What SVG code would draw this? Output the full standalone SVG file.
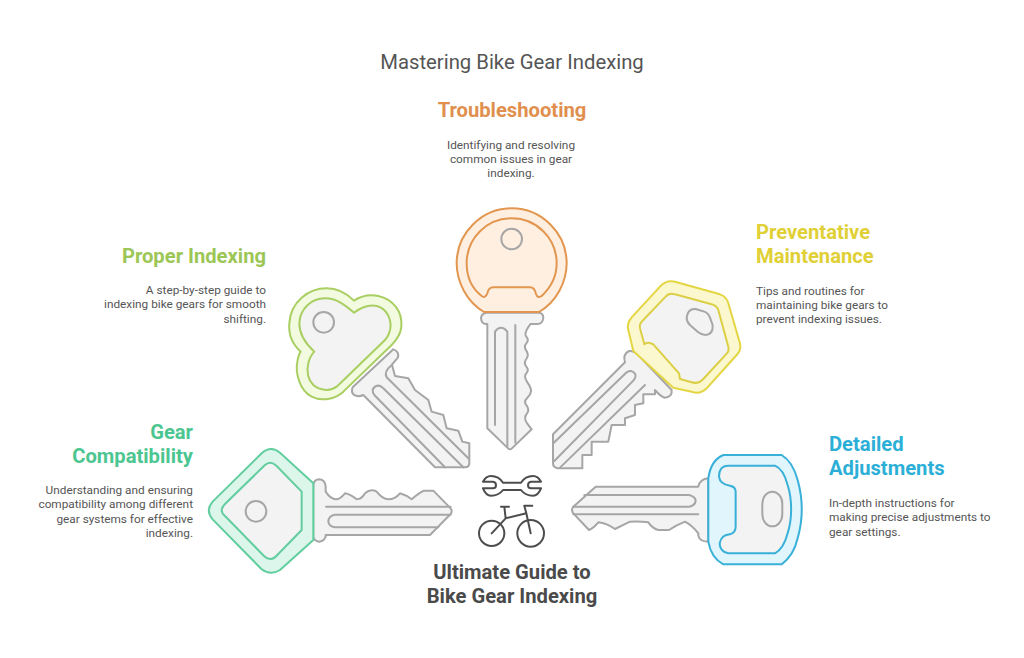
<svg xmlns="http://www.w3.org/2000/svg" width="1024" height="658" viewBox="0 0 1024 658">
<style>
text{font-family:Roboto,"Liberation Sans",sans-serif;fill:#555}
.title{font-size:20.3px;text-anchor:middle}
.h{font-size:20.2px;font-weight:700}
.d{font-size:11.8px}
.c{text-anchor:middle}
.e{text-anchor:end}
.m{font-weight:700;fill:#4a4a4a;font-size:20.2px;text-anchor:middle}
path,circle,ellipse,rect{vector-effect:non-scaling-stroke;stroke-width:2;stroke-linejoin:round;stroke-linecap:round}
.g{fill:#f3f3f3;stroke:#a6a6a6}
.n{fill:none;stroke:#a6a6a6}
.ic{fill:none;stroke:#4d4d4d}
.or{fill:#feefe1;stroke:#e2964f}.ori{fill:#feefe1;stroke:#e2964f}
.lm{fill:#f2fadf;stroke:#a9cf62}.lmi{fill:#f3f3f3;stroke:#a9cf62}
.ye{fill:#fbf8cf;stroke:#e4d643}.yei{fill:#f3f3f3;stroke:#dccf45}
.te{fill:#ddf6ec;stroke:#62cd9f}.tei{fill:#f3f3f3;stroke:#62cd9f}
.bl{fill:#e0f5fc;stroke:#38b0d8}.bli{fill:#f3f3f3;stroke:#38b0d8}
</style>
<rect width="1024" height="658" fill="#fff" style="stroke:none"/>
<text class="title" x="512" y="69">Mastering Bike Gear Indexing</text>

<g id="key-troubleshooting" transform="translate(440 200) scale(.3333)">
<path class="g" d="M140 338H298Q310 340 310 354Q308 372 292 372H272Q250 400 259 410Q268 420 259 430Q250 440 259 452Q268 465 259 477Q250 490 259 500Q268 510 259 520Q250 530 262 547Q275 565 273 575Q272 585 261 595Q250 605 260 617Q270 630 260 642Q250 655 262 671L275 688L215 746Q212 750 205 746L142 685V372H138Q124 372 123 354Q124 340 140 338Z"/>
<path class="n" d="M165 675V395Q183 372 202 395V740"/>
<path class="n" d="M226 375V728"/>
<path class="or" d="M132 336C80 305 50 245 50 190C50 100 125 25 215 25C305 25 380 100 380 190C380 245 350 305 297 336Z"/>
<path class="ori" d="M125 288C95 265 80 230 80 190C80 115 140 55 215 55C290 55 350 115 350 190C350 230 330 265 305 288Q293 296 288 282Q284 262 270 262H160Q146 262 142 280Q136 296 125 288Z"/>
<circle class="n" cx="215" cy="117" r="31"/>
</g>

<g id="key-proper-indexing" transform="translate(280 280) scale(.3333)">
<path class="g" d="M340 208Q358 214 354 232L336 254L345 288L385 295L405 330L445 360L455 395L490 405L500 445L535 452L547 485L568 490V550Q568 562 555 562H465L250 345Q235 352 222 345Q212 335 218 322Z"/>
<path class="n" d="M495 562L283 345Q272 330 285 320Q298 312 310 325L550 562"/>
<path class="n" d="M336 254Q310 275 320 292L565 535"/>
<path class="lm" d="M62 215C35 190 25 160 28 130C32 65 85 25 140 25C175 25 205 45 222 62C240 50 265 42 295 48C340 58 368 95 364 140C362 165 350 180 335 195L190 335C165 358 125 365 95 350C60 332 45 280 52 245Q55 225 62 215Z"/>
<path class="lmi" d="M103 215C75 190 58 165 58 130C60 85 95 55 135 55C170 55 195 75 222 98C240 85 262 72 290 78C318 85 335 115 331 145Q328 165 315 180L170 320C150 335 120 332 100 315C85 300 78 275 85 250Q90 228 103 215Z"/>
<circle class="n" cx="131" cy="127" r="31"/>
</g>

<g id="key-preventative" transform="translate(545 275) scale(.3333)">
<path class="g" d="M240 262Q232 238 252 228Q266 226 280 240L380 345Q382 366 360 368Q348 366 330 345V358H295V385L270 390V420L240 430V450H200L190 500H140V540H112V580H38Q24 578 24 565V478Z"/>
<path class="n" d="M25 505L245 292Q262 282 271 298Q274 310 262 320L28 558"/>
<path class="n" d="M45 578L300 330"/>
<path class="ye" d="M265 228L250 165Q244 145 262 125L345 35Q362 15 390 20L525 58Q545 65 550 85L585 205Q590 225 575 240L485 340Q465 360 440 350L385 338Z"/>
<path class="yei" d="M298 208L285 160Q282 148 292 138L362 65Q372 52 390 58L500 88Q515 92 520 105L550 215Q553 228 545 236L475 312Q460 328 440 322L405 312L402 295L325 208Q308 198 298 208Z"/>
<path class="n" d="M425 128Q428 100 452 102L478 110Q490 114 495 128L503 150Q505 178 482 180Q470 180 458 170L435 150Q425 140 425 128Z"/>
</g>

<g id="key-gear-compatibility" transform="translate(200 440) scale(.3333)">
<path class="g" d="M340 135Q342 118 358 118Q376 120 377 140V155Q392 178 408 178Q420 178 435 160Q450 162 470 178Q485 178 495 160Q512 145 530 155Q548 178 565 178Q585 178 600 160Q618 165 635 178Q655 160 672 152H700L752 205Q758 212 752 222L690 285H377V290Q372 305 356 305Q342 302 340 290Z"/>
<path class="n" d="M378 200H752"/>
<path class="n" d="M752 224H405Q385 228 385 245Q387 260 405 262H715"/>
<path class="te" d="M340 130V300L240 390Q212 408 185 388L38 238Q15 212 38 185L185 40Q212 15 240 38Z"/>
<path class="tei" d="M305 155V270L232 345Q212 368 192 348L75 228Q55 212 75 192L195 75Q212 60 230 78Z"/>
<circle class="n" cx="168" cy="214" r="31"/>
</g>

<g id="key-detailed" transform="translate(565 445) scale(.3333)">
<path class="g" d="M430 100Q405 102 400 125H92L25 185Q17 195 25 205L72 255Q85 250 100 232Q125 235 150 252Q175 240 195 230Q225 228 250 232Q262 250 280 255H312Q335 240 360 230Q380 240 400 265V272Q404 290 430 290Z"/>
<path class="n" d="M58 150H372Q392 155 392 168Q390 182 372 185H25"/>
<path class="n" d="M25 208H400"/>
<path class="bl" d="M430 100C435 65 450 40 475 30H650C675 45 690 75 698 105C715 165 715 220 698 280C690 315 675 340 650 358H475C450 345 435 320 430 290Z"/>
<path class="bli" d="M462 95C462 75 470 62 490 62H630C650 70 660 90 668 120C682 165 682 220 668 265C660 295 650 315 630 325H490C470 322 462 305 465 292Q470 270 495 268Q512 262 512 245V140Q512 125 495 122Q465 118 462 95Z"/>
<rect class="n" x="592" y="140" width="60" height="104" rx="30" ry="36"/>
</g>

<g id="center-icon">
<path class="ic" d="M503 482.7H521C524 478 529 476 533 476Q538 476 541 481.7H531Q528 482 528 485.2Q528 488 531 488.3H541Q538 495.7 533 495.7C529 495.7 524 494 521 490H503C500 494 495 495.7 491 495.7Q486 495.7 483 488.3H493Q496 488 496 485.2Q496 482 493 481.7H483Q486 476 491 476C495 476 500 478 503 482.7Z"/>
<g transform="translate(465 465) scale(.3333)">
<circle class="ic" cx="80" cy="205" r="38"/>
<circle class="ic" cx="197" cy="205" r="40"/>
<path class="ic" d="M80 205L122 160L184 145L197 205M108 125H132M122 160L118 125M184 145L178 122H202"/>
</g>
</g>

<g id="label-troubleshooting">
<text class="h c" x="512" y="117" style="fill:#e08f4e">Troubleshooting</text>
<text class="d c" x="511" y="149">Identifying and resolving</text>
<text class="d c" x="511" y="163">common issues in gear</text>
<text class="d c" x="511" y="177">indexing.</text>
</g>
<g id="label-proper">
<text class="h e" x="266" y="263" style="fill:#9cc655">Proper Indexing</text>
<text class="d e" x="266" y="294">A step-by-step guide to</text>
<text class="d e" x="266" y="308">indexing bike gears for smooth</text>
<text class="d e" x="266" y="323">shifting.</text>
</g>
<g id="label-preventative">
<text class="h" x="756" y="239" style="fill:#e0d035">Preventative</text>
<text class="h" x="756" y="263" style="fill:#e0d035">Maintenance</text>
<text class="d" x="756" y="295">Tips and routines for</text>
<text class="d" x="756" y="309">maintaining bike gears to</text>
<text class="d" x="756" y="323">prevent indexing issues.</text>
</g>
<g id="label-gear">
<text class="h e" x="193" y="439" style="fill:#4cc690">Gear</text>
<text class="h e" x="193" y="463" style="fill:#4cc690">Compatibility</text>
<text class="d e" x="193" y="494">Understanding and ensuring</text>
<text class="d e" x="193" y="508">compatibility among different</text>
<text class="d e" x="193" y="523">gear systems for effective</text>
<text class="d e" x="193" y="537">indexing.</text>
</g>
<g id="label-detailed">
<text class="h" x="829" y="451" style="fill:#2cafd6">Detailed</text>
<text class="h" x="829" y="475" style="fill:#2cafd6">Adjustments</text>
<text class="d" x="829" y="507">In-depth instructions for</text>
<text class="d" x="829" y="521">making precise adjustments to</text>
<text class="d" x="829" y="536">gear settings.</text>
</g>
<g id="label-center">
<text class="m" x="512" y="579">Ultimate Guide to</text>
<text class="m" x="512" y="603">Bike Gear Indexing</text>
</g>
</svg>
